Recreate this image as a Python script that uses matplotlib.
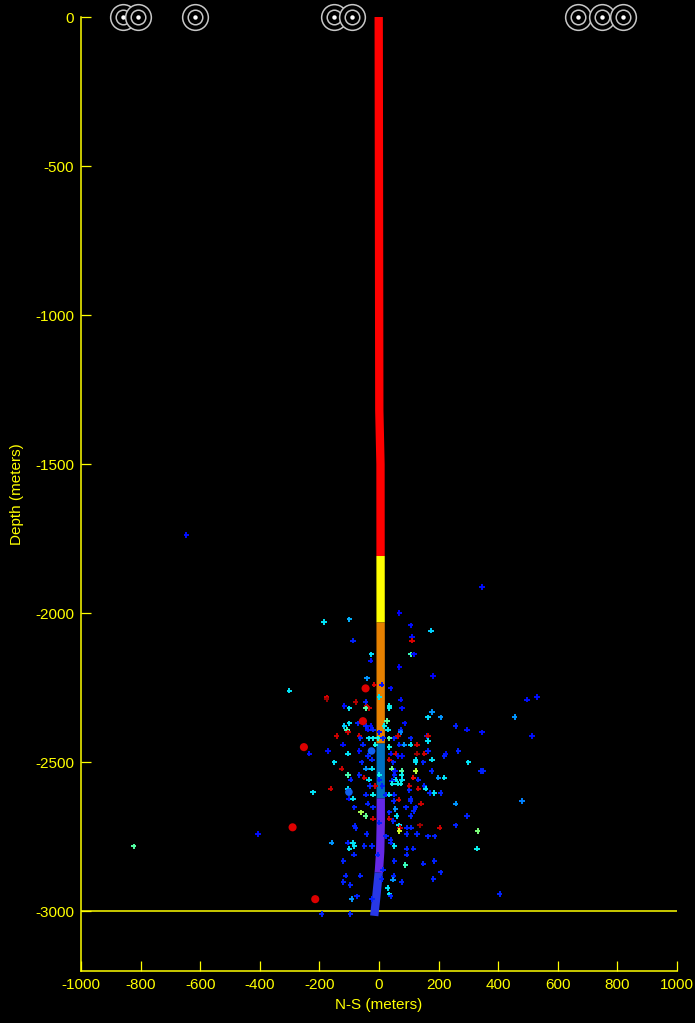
import numpy as np
import matplotlib
matplotlib.use("Agg")
import matplotlib.pyplot as plt

plt.rcParams['font.family'] = ['Liberation Sans', 'DejaVu Sans']
plt.rcParams['axes.unicode_minus'] = False

# ---- well trajectory (N-S offset vs depth) ----
well_depth = [0, -1320, -1500, -2700, -2800, -2860, -2900, -2960, -3015]
well_ns = [-1, 1, 5, 6, 4, 0, -4, -10, -16]
zone_bounds = [0, -1808, -2031, -2437, -2621, -2870, -3015]
zone_colors = ['#ff0000', '#ffff00', '#e68000', '#0070c0', '#6428e6', '#2838e6']

# ---- surface stations ----
station_ns = [-859, -810, -617, -151, -91, 668, 748, 819]

# ---- large events ----
big_red_ns = [-45, -54, -252, -290, -214]
big_red_depth = [-2252, -2362, -2449, -2718, -2959]
big_blue_ns = [-25, -101]
big_blue_depth = [-2462, -2600]

# ---- microseismic events ----
ev_ns = [-184, -100, 68, 106, 111, 111, 174, -87, -26, -28, 106, 118, 68, 181, -40,
         -301, -16, 9, 39, 1, -176, -176, 73, -78, -45, -116, -100, -41, -34, -45,
         35, 35, 77, 178, 165, 207, 27, 18, 86, -100, -116, -70, -45, -28, -108,
         -104, -37, -20, 73, 73, 30, 1, 257, 295, -142, -66, -63, -33, -20, -3,
         13, 35, 51, 64, 106, 161, 164, 165, -121, -54, -12, 35, 68, 85, 106,
         128, -234, -171, -104, -66, -37, 39, 56, 65, 77, 127, 152, 165, 224, 266,
         123, 123, 149, 178, 219, 300, -150, -58, -23, 35, 48, -44, -24, -125, 43,
         54, 76, 123, 177, -104, -66, 1, 51, 76, -49, -95, -33, 1, 115, 132,
         56, 77, 44, 199, 219, 45, 63, 73, 102, 152, -30, -12, 11, -162, -221,
         -104, -101, -87, -44, -20, 22, 35, 51, 102, 132, 157, 170, 186, 207, 106,
         106, 49, 66, 141, 257, -38, -83, -20, 55, 91, 123, 116, -61, 35, 59,
         106, 295, -45, -20, 1, 35, 48, 67, 70, 68, 138, 204, 331, -82, -78,
         94, 107, 257, 165, 187, 128, 93, 23, -41, -159, -104, -87, -83, -100, 39,
         39, 51, -49, -23, 93, 115, 329, -84, -4, 93, -120, 51, 88, 149, 186,
         13, -112, -63, 49, 207, 9, 47, -120, 182, 76, -96, 29, -74, -92, 35,
         39, -23, -192, -96, 497, 530, 455, 513, 346, 341, 350, 480, 405, 346, -647,
         -406, -823]
ev_depth = [-2029, -2020, -1999, -2041, -2080, -2092, -2058, -2092, -2138, -2159, -2138, -2138, -2180, -2211, -2218,
            -2260, -2239, -2239, -2252, -2281, -2282, -2289, -2290, -2298, -2298, -2311, -2319, -2312, -2319, -2319,
            -2311, -2319, -2319, -2331, -2349, -2349, -2362, -2378, -2369, -2369, -2378, -2369, -2378, -2378, -2390,
            -2399, -2390, -2390, -2390, -2399, -2390, -2399, -2378, -2390, -2412, -2412, -2420, -2420, -2420, -2420,
            -2420, -2420, -2420, -2412, -2420, -2412, -2412, -2429, -2441, -2441, -2441, -2449, -2441, -2441, -2441,
            -2441, -2471, -2462, -2471, -2462, -2479, -2471, -2471, -2479, -2479, -2471, -2471, -2462, -2471, -2462,
            -2491, -2500, -2500, -2491, -2479, -2500, -2500, -2500, -2491, -2491, -2500, -2521, -2521, -2521, -2521,
            -2529, -2529, -2529, -2529, -2543, -2543, -2543, -2543, -2543, -2551, -2558, -2558, -2558, -2551, -2558,
            -2558, -2558, -2563, -2551, -2551, -2572, -2572, -2572, -2580, -2580, -2580, -2580, -2580, -2588, -2601,
            -2588, -2622, -2622, -2609, -2609, -2609, -2609, -2609, -2594, -2588, -2588, -2603, -2603, -2603, -2622,
            -2630, -2630, -2625, -2639, -2639, -2639, -2651, -2651, -2656, -2651, -2651, -2663, -2668, -2668, -2680,
            -2680, -2680, -2680, -2689, -2702, -2689, -2697, -2711, -2719, -2731, -2711, -2719, -2731, -2714, -2722,
            -2719, -2719, -2711, -2748, -2748, -2741, -2741, -2748, -2741, -2769, -2769, -2769, -2781, -2790, -2759,
            -2769, -2781, -2781, -2781, -2790, -2790, -2790, -2810, -2810, -2810, -2831, -2831, -2844, -2840, -2831,
            -2860, -2880, -2880, -2880, -2869, -2891, -2894, -2901, -2891, -2901, -2912, -2922, -2950, -2959, -2943,
            -2950, -2959, -3009, -3009, -2290, -2281, -2348, -2412, -2399, -2529, -2529, -2630, -2942, -1912, -1738,
            -2741, -2782]
ev_val = [0.35, 0.30, 0.11, 0.14, 0.14, 0.92, 0.33, 0.16, 0.34, 0.14, 0.42, 0.14, 0.13, 0.11, 0.27,
          0.35, 0.92, 0.14, 0.14, 0.35, 0.92, 0.97, 0.14, 0.95, 0.16, 0.14, 0.35, 0.93, 0.93, 0.45,
          0.36, 0.36, 0.14, 0.27, 0.34, 0.27, 0.45, 0.36, 0.14, 0.35, 0.33, 0.16, 0.16, 0.14, 0.43,
          0.93, 0.14, 0.16, 0.16, 0.26, 0.35, 0.14, 0.16, 0.14, 0.93, 0.93, 0.16, 0.35, 0.36, 0.37,
          0.16, 0.45, 0.16, 0.93, 0.16, 0.16, 0.93, 0.35, 0.14, 0.16, 0.37, 0.37, 0.16, 0.27, 0.35,
          0.93, 0.14, 0.14, 0.35, 0.14, 0.16, 0.14, 0.93, 0.14, 0.14, 0.97, 0.93, 0.16, 0.14, 0.16,
          0.35, 0.35, 0.16, 0.35, 0.16, 0.35, 0.35, 0.16, 0.16, 0.93, 0.16, 0.27, 0.35, 0.93, 0.48,
          0.14, 0.45, 0.58, 0.16, 0.43, 0.16, 0.36, 0.16, 0.36, 0.93, 0.16, 0.35, 0.16, 0.90, 0.16,
          0.35, 0.35, 0.16, 0.27, 0.35, 0.36, 0.36, 0.36, 0.93, 0.16, 0.16, 0.93, 0.16, 0.93, 0.35,
          0.35, 0.14, 0.35, 0.16, 0.36, 0.16, 0.35, 0.16, 0.16, 0.93, 0.35, 0.16, 0.35, 0.16, 0.16,
          0.16, 0.16, 0.93, 0.93, 0.27, 0.16, 0.16, 0.16, 0.27, 0.16, 0.16, 0.16, 0.55, 0.16, 0.35,
          0.16, 0.16, 0.47, 0.93, 0.16, 0.93, 0.16, 0.35, 0.93, 0.60, 0.97, 0.93, 0.50, 0.16, 0.16,
          0.16, 0.16, 0.16, 0.16, 0.16, 0.16, 0.16, 0.16, 0.16, 0.27, 0.16, 0.35, 0.35, 0.35, 0.16,
          0.16, 0.35, 0.16, 0.16, 0.16, 0.16, 0.36, 0.16, 0.16, 0.16, 0.16, 0.16, 0.42, 0.16, 0.16,
          0.16, 0.16, 0.16, 0.16, 0.16, 0.16, 0.27, 0.16, 0.16, 0.16, 0.16, 0.35, 0.16, 0.27, 0.35,
          0.16, 0.16, 0.16, 0.16, 0.14, 0.14, 0.27, 0.14, 0.14, 0.16, 0.16, 0.25, 0.16, 0.14, 0.14,
          0.14, 0.45]

x_ticks = [-1000, -800, -600, -400, -200, 0, 200, 400, 600, 800, 1000]
y_ticks = [-3000, -2500, -2000, -1500, -1000, -500, 0]
bottom_line = -3000

YEL = '#ffff00'

fig = plt.figure(figsize=(6.95, 10.23), dpi=100, facecolor='black')
ax = fig.add_axes([81 / 695, 52 / 1023, 596 / 695, 954 / 1023])
ax.set_facecolor('black')

# well path coloured by depth zone
wd = np.array(well_depth, dtype=float)
wx = np.array(well_ns, dtype=float)
for i, col in enumerate(zone_colors):
    top, bot = zone_bounds[i], zone_bounds[i + 1]
    inner = (wd < top) & (wd > bot)
    d = np.concatenate([[top], wd[inner], [bot]])
    x = np.interp(-d, -wd, wx)
    ax.plot(x, d, color=col, lw=6.0, solid_capstyle='butt', zorder=2)

# events
cmap = plt.get_cmap('jet')
ax.scatter(ev_ns, ev_depth, c=ev_val, cmap=cmap, vmin=0, vmax=1, marker='+',
           s=15, linewidths=1.4, zorder=3)
ax.scatter(big_red_ns, big_red_depth, s=34, color='#dd0000', edgecolors='none', zorder=4)
ax.scatter(big_blue_ns, big_blue_depth, s=30, color='#1060f0', edgecolors='none', zorder=4)

# bottom reference line
ax.axhline(bottom_line, color=YEL, lw=1.1, zorder=1)

# surface stations
for i, sx in enumerate(station_ns):
    z = 10 + i * 3
    ax.plot([sx], [0], marker='o', ms=18.5, mfc='black', mec='#c8c8c8', mew=1.1,
            clip_on=False, zorder=z)
    ax.plot([sx], [0], marker='o', ms=10.5, mfc='black', mec='#c8c8c8', mew=1.1,
            clip_on=False, zorder=z + 1)
    ax.plot([sx], [0], marker='o', ms=3.2, mfc='white', mec='white', mew=0,
            clip_on=False, zorder=z + 2)

ax.set_xlim(-1000, 1000)
ax.set_ylim(-3200, 0)
ax.set_xticks(x_ticks)
ax.set_yticks(y_ticks)
ax.set_xticklabels([str(v) for v in x_ticks])
ax.set_yticklabels([str(v) for v in y_ticks])

for s in ['top', 'right']:
    ax.spines[s].set_visible(False)
for s in ['left', 'bottom']:
    ax.spines[s].set_color(YEL)
    ax.spines[s].set_linewidth(1.1)

ax.tick_params(axis='both', direction='in', length=7, width=0.9, color=YEL,
               labelcolor=YEL, labelsize=11, pad=5)
ax.set_xlabel('N-S (meters)', color=YEL, fontsize=11, labelpad=4)
ax.set_ylabel('Depth (meters)', color=YEL, fontsize=11, labelpad=8)

fig.savefig('out.png', dpi=100, facecolor='black')
